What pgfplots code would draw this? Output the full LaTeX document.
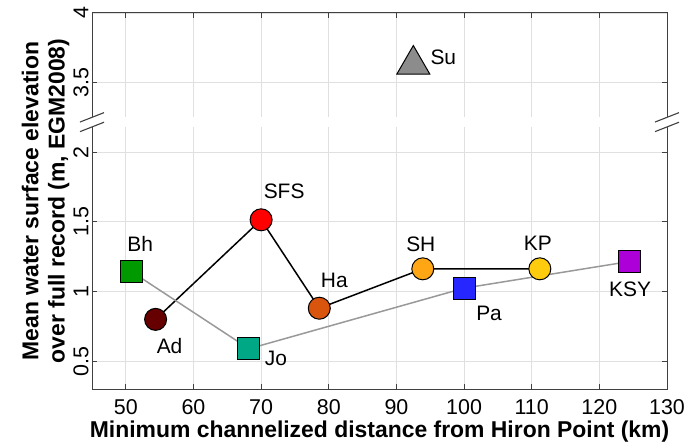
\documentclass[border=0pt]{standalone}
\usepackage{fontspec}
\setmainfont{Liberation Sans}
\setsansfont{Liberation Sans}
\usepackage{pgfplots}
\pgfplotsset{compat=1.18}

\definecolor{axisgray}{gray}{0.25}
\definecolor{gridgray}{gray}{0.88}
\definecolor{linegray}{gray}{0.6}
\definecolor{cBh}{rgb}{0,0.6,0}
\definecolor{cAd}{rgb}{0.4,0,0}
\definecolor{cSFS}{rgb}{1,0,0}
\definecolor{cJo}{rgb}{0,0.66,0.52}
\definecolor{cHa}{rgb}{0.85,0.33,0.05}
\definecolor{cSH}{rgb}{1,0.65,0.08}
\definecolor{cKP}{rgb}{1,0.8,0.05}
\definecolor{cPa}{rgb}{0.15,0.15,1}
\definecolor{cKSY}{rgb}{0.68,0,0.85}
\definecolor{cSu}{gray}{0.55}

\newcommand{\tickfont}{\fontsize{21.5}{21.5}\selectfont}
\newcommand{\labfont}{\fontsize{23}{26.5}\selectfont\bfseries}
\newcommand{\ptfont}{\fontsize{21}{21}\selectfont}

\begin{document}
\begin{tikzpicture}
\begin{axis}[
  scale only axis, width=575bp, height=376bp,
  xmin=45, xmax=130, ymin=0.3, ymax=3,
  xtick={50,60,...,130},
  % the upper panel (3.5--4) sits one unit lower, across the axis break
  ytick={0.5,1,1.5,2,2.5,3},
  yticklabels={0.5,1,1.5,2,3.5,4},
  /pgf/number format/assume math mode=true,
  tick label style={font=\tickfont, black},
  yticklabel style={rotate=90, anchor=south, xshift=0bp},
  xticklabel style={yshift=-7bp},
  tick align=inside, major tick length=5bp,
  grid=major, major grid style={gridgray, line width=0.8bp},
  axis line style={axisgray, line width=1bp},
  tick style={axisgray, line width=1bp},
  xlabel={Minimum channelized distance from Hiron Point (km)},
  ylabel={Mean water surface elevation\\over full record (m, EGM2008)},
  xlabel style={font=\labfont, yshift=1bp},
  ylabel style={font=\labfont, align=center, yshift=-3bp},
  clip=false,
]
% connecting lines
\addplot[black, line width=1.5bp] coordinates {(54.4,0.80) (70.0,1.515) (78.6,0.88) (93.9,1.163) (111.2,1.163)};
\addplot[linegray, line width=1.5bp] coordinates {(50.8,1.144) (68.2,0.589) (100.0,1.024) (124.4,1.215)};

% stations
\pgfplotsset{stn/.style={only marks, mark options={draw=black, line width=1bp, fill=#1}}}
\addplot[stn=cBh, mark=square*, mark size=11bp] coordinates {(50.8,1.144)};
\addplot[stn=cAd, mark=*, mark size=11bp] coordinates {(54.4,0.80)};
\addplot[stn=cSFS, mark=*, mark size=11bp] coordinates {(70.0,1.515)};
\addplot[stn=cJo, mark=square*, mark size=11bp] coordinates {(68.2,0.589)};
\addplot[stn=cHa, mark=*, mark size=11bp] coordinates {(78.6,0.88)};
\addplot[stn=cSH, mark=*, mark size=11bp] coordinates {(93.9,1.163)};
\addplot[stn=cPa, mark=square*, mark size=11bp] coordinates {(100.0,1.024)};
\addplot[stn=cKP, mark=*, mark size=11bp] coordinates {(111.2,1.163)};
\addplot[stn=cKSY, mark=square*, mark size=11bp] coordinates {(124.4,1.215)};
\addplot[stn=cSu, mark=triangle*, mark size=19bp, y filter/.expression={y-1}] coordinates {(92.5,3.63)};

% station names
\begin{scope}[every node/.style={font=\ptfont, inner sep=0pt}]
\node at (axis cs:50.8,1.144) [xshift=9bp, yshift=28bp] {Bh};
\node at (axis cs:54.4,0.80) [xshift=14bp, yshift=-27bp] {Ad};
\node at (axis cs:70.0,1.515) [xshift=23bp, yshift=29bp] {SFS};
\node at (axis cs:68.2,0.589) [xshift=27bp, yshift=-10bp] {Jo};
\node at (axis cs:78.6,0.88) [xshift=15bp, yshift=28bp] {Ha};
\node at (axis cs:93.9,1.163) [xshift=-2bp, yshift=25bp] {SH};
\node at (axis cs:100.0,1.024) [xshift=25bp, yshift=-25bp] {Pa};
\node at (axis cs:111.2,1.163) [xshift=-2bp, yshift=26bp] {KP};
\node at (axis cs:124.4,1.215) [xshift=1bp, yshift=-28bp] {KSY};
\node at (axis cs:92.5,2.63) [xshift=30bp, yshift=7bp] {Su};
\end{scope}

% axis break corners
\coordinate (brkL) at (axis cs:45,2.217);
\coordinate (brkR) at (axis cs:130,2.217);
\end{axis}

% axis break: white band and double slashes on both sides
\fill[white] ([shift={(-3bp,-4.8bp)}]brkL) rectangle ([shift={(3bp,4.8bp)}]brkR);
\foreach \p in {brkL,brkR}{
  \draw[axisgray, line width=1.1bp] ([shift={(-12bp,0bp)}]\p) -- ([shift={(12bp,9.4bp)}]\p);
  \draw[axisgray, line width=1.1bp] ([shift={(-12bp,-9.6bp)}]\p) -- ([shift={(12bp,-0.2bp)}]\p);
}

\pgfresetboundingbox
\path[use as bounding box] ([shift={(-92bp,-57bp)}]current axis.south west) rectangle ([shift={(18bp,13bp)}]current axis.north east);
\end{tikzpicture}
\end{document}
